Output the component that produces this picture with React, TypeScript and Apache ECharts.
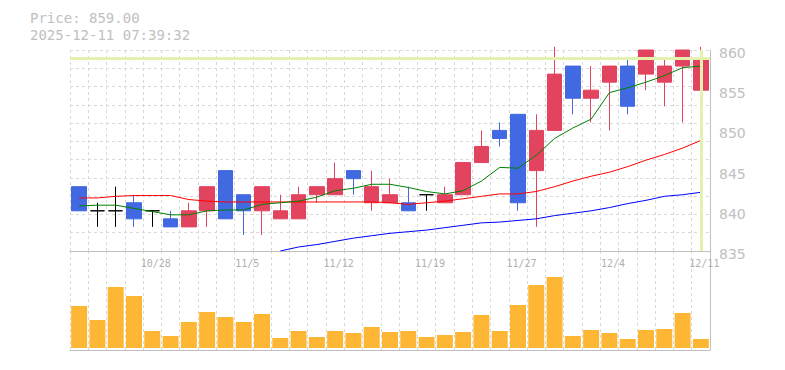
import React, { useEffect, useRef } from 'react';
import * as echarts from 'echarts';

const dates = ['10/22','10/23','10/24','10/27','10/28','10/29','10/30','10/31','11/4','11/5','11/6','11/7','11/10','11/11','11/12','11/13','11/14','11/17','11/18','11/19','11/20','11/21','11/25','11/26','11/27','11/28','12/1','12/2','12/3','12/4','12/5','12/8','12/9','12/10','12/11'];

// [open, close, low, high]
const candles = [
  [843, 840, 840, 843], [840, 840, 838, 841], [840, 840, 838, 843], [841, 839, 838, 842],
  [840, 840, 838, 840], [839, 838, 838, 840], [838, 840, 838, 841], [840, 843, 838, 843],
  [845, 839, 839, 845], [842, 840, 837, 842], [840, 843, 837, 843], [839, 840, 839, 842],
  [839, 842, 839, 843], [842, 843, 841, 843], [842, 844, 842, 846], [845, 844, 842, 845],
  [841, 843, 840, 845], [841, 842, 841, 844], [841, 840, 840, 843], [842, 842, 840, 842],
  [841, 842, 841, 843], [842, 846, 842, 846], [846, 848, 846, 850], [850, 849, 848, 851],
  [852, 841, 840, 852], [845, 850, 838, 852], [850, 857, 850, 860.4], [858, 854, 852, 858],
  [854, 855, 851, 858], [856, 858, 850, 858], [858, 853, 852, 859], [857, 860, 855, 860],
  [856, 858, 853, 859], [858, 860, 851, 860], [855, 859, 855, 860.4],
];

const ma5 = [840.6, 840.7, 840.7, 840.3, 839.9, 839.5, 839.5, 840.0, 840.1, 840.1, 840.8, 841.0, 841.2, 841.7, 842.5, 842.8, 843.3, 843.3, 842.9, 842.4, 842.1, 842.5, 843.7, 845.4, 845.3, 846.9, 849.0, 850.3, 851.4, 854.7, 855.3, 856.0, 856.8, 857.8, 858.0];
const ma25 = [841.6, 841.6, 841.8, 841.9, 841.9, 841.9, 841.4, 841.2, 841.1, 841.1, 841.1, 841.1, 841.1, 841.1, 841.1, 841.1, 841.1, 841.0, 840.8, 841.0, 841.2, 841.5, 841.8, 842.1, 842.1, 842.4, 843.0, 843.7, 844.3, 844.8, 845.5, 846.3, 847.0, 847.8, 848.75];
const ma75 = [null, null, null, null, null, null, null, null, null, null, null, 835.0, 835.5, 835.8, 836.2, 836.6, 836.9, 837.2, 837.4, 837.6, 837.9, 838.2, 838.5, 838.6, 838.8, 839.0, 839.4, 839.7, 840.0, 840.4, 840.9, 841.3, 841.8, 842.0, 842.3];

const volumes = [42, 28, 61, 52, 17, 12, 26, 36, 31, 26, 34, 10, 17, 11, 17, 15, 21, 16, 17, 11, 13, 16, 33, 17, 43, 63, 71, 12, 18, 15, 9, 18, 19, 35, 9];

const lastPrice = 859.0;
const timestamp = '2025-12-11 07:39:32';

const RED = '#e2435f';
const BLUE = '#4169e1';
const ORANGE = '#fdb735';
const GRID = '#d9d9d9';
const AXIS = '#c0c0c0';

export default function App() {
  const ref = useRef<HTMLDivElement>(null);
  useEffect(() => {
    if (!ref.current) return;
    const chart = echarts.init(ref.current, undefined, { renderer: 'svg' });
    const dashed = { show: true, lineStyle: { color: GRID, type: [3, 3], width: 1 } };
    chart.setOption({
      animation: false,
      backgroundColor: '#ffffff',
      graphic: [
        { type: 'text', left: 30, top: 11, style: { text: `Price: ${lastPrice.toFixed(2)}`, fill: '#c0c0c0', font: '14px "DejaVu Sans Mono"' } },
        { type: 'text', left: 30, top: 27.5, style: { text: timestamp, fill: '#c0c0c0', font: '14px "DejaVu Sans Mono"' } },
      ],
      grid: [
        { left: 70, top: 50, width: 640, height: 201 },
        { left: 70, top: 251, width: 640, height: 99 },
      ],
      xAxis: [
        {
          type: 'category', gridIndex: 0, data: dates, boundaryGap: true,
          axisLine: { show: true, onZero: false, lineStyle: { color: AXIS } },
          axisTick: { show: false },
          axisLabel: { interval: (i: number) => i % 5 === 4, color: '#b0b0b0', fontFamily: 'DejaVu Sans Mono', fontSize: 10, margin: 7, padding: [0, 0, 0, 7] },
          splitLine: { ...dashed, interval: 0 },
        },
        {
          type: 'category', gridIndex: 1, data: dates, boundaryGap: true,
          axisLine: { show: true, onZero: false, lineStyle: { color: AXIS } },
          axisTick: { show: false }, axisLabel: { show: false },
          splitLine: { ...dashed, interval: 0 },
        },
      ],
      yAxis: [
        {
          type: 'value', gridIndex: 0, position: 'right', min: 835, max: 860, interval: 5,
          axisLine: { show: true, lineStyle: { color: AXIS } }, axisTick: { show: false },
          axisLabel: { color: '#c0c0c0', fontSize: 14, margin: 9, fontFamily: 'DejaVu Sans', verticalAlign: 'top', lineHeight: 6 },
          splitLine: { show: false },
        },
        {
          type: 'value', gridIndex: 0, position: 'left', min: 0, max: 11, interval: 1,
          axisLine: { show: false }, axisTick: { show: false }, axisLabel: { show: false },
          splitLine: dashed,
        },
        {
          type: 'value', gridIndex: 1, position: 'right', min: -2, max: 97,
          axisLine: { show: true, lineStyle: { color: AXIS } }, axisTick: { show: false }, axisLabel: { show: false },
          splitLine: { show: false },
        },
      ],
      series: [
        {
          type: 'line', xAxisIndex: 0, yAxisIndex: 0, data: dates.map(() => null), symbol: 'none', silent: true,
          markLine: {
            silent: true, symbol: ['none', 'none'], label: { show: false },
            lineStyle: { color: '#e4f2b0', width: 3, type: 'solid' },
            data: [{ yAxis: lastPrice }, { xAxis: dates[dates.length - 1] }],
          },
        },
        { type: 'line', name: 'MA25', xAxisIndex: 0, yAxisIndex: 0, data: ma25, symbol: 'none', lineStyle: { color: '#ff0000', width: 1 } },
        { type: 'line', name: 'MA75', xAxisIndex: 0, yAxisIndex: 0, data: ma75, symbol: 'none', lineStyle: { color: '#0000ff', width: 1 } },
        { type: 'line', name: 'MA5', xAxisIndex: 0, yAxisIndex: 0, data: ma5, symbol: 'none', lineStyle: { color: '#008000', width: 1 } },
        {
          type: 'candlestick', xAxisIndex: 0, yAxisIndex: 0, data: candles, barWidth: 15,
          itemStyle: { color: RED, color0: BLUE, borderColor: RED, borderColor0: BLUE, borderColorDoji: '#000000', borderWidth: 1 },
        },
        { type: 'bar', xAxisIndex: 1, yAxisIndex: 2, data: volumes, barWidth: 16, itemStyle: { color: ORANGE } },
      ],
    });
    return () => chart.dispose();
  }, []);
  return <div ref={ref} style={{ position: 'fixed', left: 0, top: 0, width: 785, height: 370 }} />;
}
